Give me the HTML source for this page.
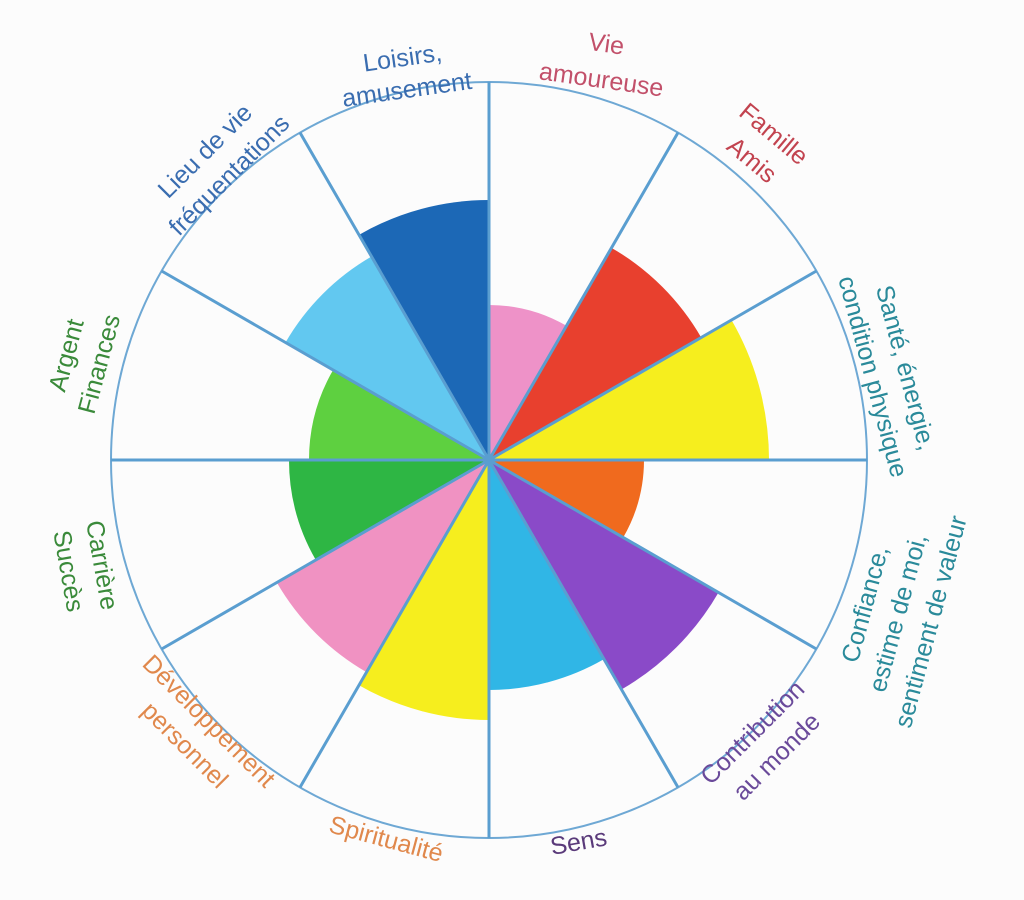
<!DOCTYPE html>
<html><head><meta charset="utf-8"><style>
html,body{margin:0;padding:0;background:#fcfcfc;}
svg{display:block}
text{font-family:"Liberation Sans","DejaVu Sans",sans-serif;font-size:25px;text-anchor:middle}
</style></head><body>
<svg width="1024" height="900" viewBox="0 0 1024 900" xmlns="http://www.w3.org/2000/svg">
<rect width="1024" height="900" fill="#fcfcfc"/>
<g transform="translate(489,460)">
  <path d="M0 0 L0 -155 A155 155 0 0 1 77.5 -134.2 Z" fill="#ee92c8"/>
  <g transform="rotate(30)"><path d="M0 0 L0 -245 A245 245 0 0 1 122.5 -212.2 Z" fill="#e8402e"/></g>
  <g transform="rotate(60)"><path d="M0 0 L0 -280 A280 280 0 0 1 140 -242.5 Z" fill="#f6ee1e"/></g>
  <g transform="rotate(90)"><path d="M0 0 L0 -155 A155 155 0 0 1 77.5 -134.2 Z" fill="#f06a1e"/></g>
  <g transform="rotate(120)"><path d="M0 0 L0 -265 A265 265 0 0 1 132.5 -229.5 Z" fill="#8a4ac8"/></g>
  <g transform="rotate(150)"><path d="M0 0 L0 -230 A230 230 0 0 1 115 -199.2 Z" fill="#30b6e6"/></g>
  <g transform="rotate(180)"><path d="M0 0 L0 -260 A260 260 0 0 1 130 -225.2 Z" fill="#f6ee1e"/></g>
  <g transform="rotate(210)"><path d="M0 0 L0 -245 A245 245 0 0 1 122.5 -212.2 Z" fill="#f092c2"/></g>
  <g transform="rotate(240)"><path d="M0 0 L0 -200 A200 200 0 0 1 100 -173.2 Z" fill="#2eb644"/></g>
  <g transform="rotate(270)"><path d="M0 0 L0 -180 A180 180 0 0 1 90 -155.9 Z" fill="#5ed040"/></g>
  <g transform="rotate(300)"><path d="M0 0 L0 -235 A235 235 0 0 1 117.5 -203.5 Z" fill="#62c8f0"/></g>
  <g transform="rotate(330)"><path d="M0 0 L0 -260 A260 260 0 0 1 130 -225.2 Z" fill="#1c68b6"/></g>
  <circle r="378" fill="none" stroke="#6ea8d4" stroke-width="2"/>
  <g stroke="#5a9ed0" stroke-width="3">
    <line x1="0" y1="0" x2="0" y2="-378"/>
    <line x1="0" y1="0" x2="0" y2="-378" transform="rotate(30)"/>
    <line x1="0" y1="0" x2="0" y2="-378" transform="rotate(60)"/>
    <line x1="0" y1="0" x2="0" y2="-378" transform="rotate(90)"/>
    <line x1="0" y1="0" x2="0" y2="-378" transform="rotate(120)"/>
    <line x1="0" y1="0" x2="0" y2="-378" transform="rotate(150)"/>
    <line x1="0" y1="0" x2="0" y2="-378" transform="rotate(180)"/>
    <line x1="0" y1="0" x2="0" y2="-378" transform="rotate(210)"/>
    <line x1="0" y1="0" x2="0" y2="-378" transform="rotate(240)"/>
    <line x1="0" y1="0" x2="0" y2="-378" transform="rotate(270)"/>
    <line x1="0" y1="0" x2="0" y2="-378" transform="rotate(300)"/>
    <line x1="0" y1="0" x2="0" y2="-378" transform="rotate(330)"/>
  </g>
</g>
<g fill="#3a6db0" transform="translate(405,76) rotate(-8)"><text x="0" y="-10">Loisirs,</text><text x="0" y="22">amusement</text></g>
<g fill="#c2506a" transform="translate(603,68) rotate(8)"><text x="0" y="-16">Vie</text><text x="0" y="20">amoureuse</text></g>
<g fill="#c2434f" transform="translate(762,148) rotate(40)"><text x="0" y="-10">Famille</text><text x="0" y="24">Amis</text></g>
<g fill="#2a8a9a" transform="translate(890,372) rotate(75)"><text x="0" y="-8">Santé, énergie,</text><text x="0" y="26">condition physique</text></g>
<g fill="#2a8a9a" transform="translate(902,614) rotate(-75)"><text x="0" y="-30">Confiance,</text><text x="0" y="4">estime de moi,</text><text x="0" y="38">sentiment de valeur</text></g>
<g fill="#6a4a9a" transform="translate(764,744) rotate(-45)"><text x="0" y="-8">Contribution</text><text x="0" y="26">au monde</text></g>
<g fill="#5a3a7a" transform="translate(580,850) rotate(-10)"><text x="0" y="0">Sens</text></g>
<g fill="#e0884c" transform="translate(384,847) rotate(15)"><text x="0" y="0">Spiritualité</text></g>
<g fill="#e0884c" transform="translate(196,734) rotate(45)"><text x="0" y="-10">Développement</text><text x="0" y="24">personnel</text></g>
<g fill="#3a8a3a" transform="translate(86,568) rotate(80)"><text x="0" y="-8">Carrière</text><text x="0" y="26">Succès</text></g>
<g fill="#3a8a3a" transform="translate(84,360) rotate(-75)"><text x="0" y="-10">Argent</text><text x="0" y="24">Finances</text></g>
<g fill="#3a6db0" transform="translate(218,164) rotate(-45)"><text x="0" y="-10">Lieu de vie</text><text x="0" y="24">fréquentations</text></g>
</svg>
</body></html>
